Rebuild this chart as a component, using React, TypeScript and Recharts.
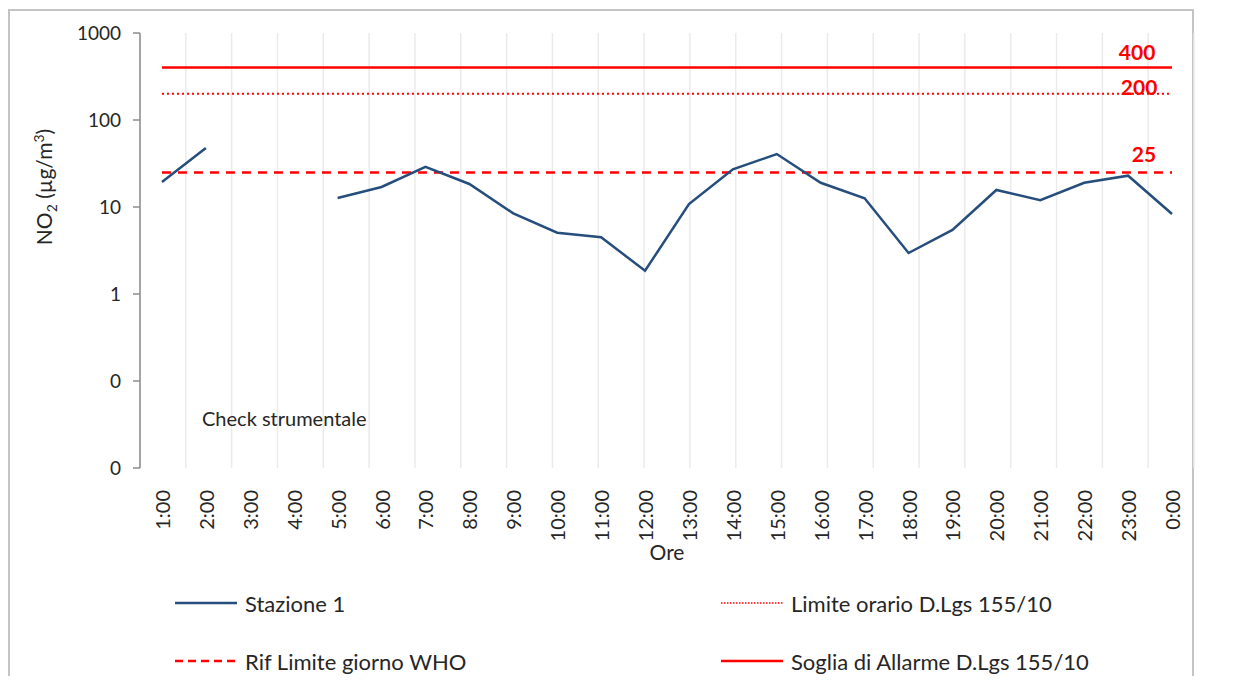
import {
  ComposedChart,
  Line,
  XAxis,
  YAxis,
  CartesianGrid,
  ReferenceLine,
} from "recharts";

const hours = [
  "1:00", "2:00", "3:00", "4:00", "5:00", "6:00", "7:00", "8:00",
  "9:00", "10:00", "11:00", "12:00", "13:00", "14:00", "15:00", "16:00",
  "17:00", "18:00", "19:00", "20:00", "21:00", "22:00", "23:00", "0:00",
];

// NO2 µg/m3, null = check strumentale
const stazione1 = [
  19.4, 47.6, null, null, 12.7, 17, 29, 18.4, 8.45, 5.07, 4.49, 1.85,
  10.8, 27.1, 40.6, 19, 12.6, 2.96, 5.45, 15.7, 12.0, 19, 22.9, 8.3,
];

const sogliaAllarme = 400;
const limiteOrario = 200;
const rifWho = 25;

const yTicks = [0.01, 0.1, 1, 10, 100, 1000];
const yMinorTicks = [0.01, 0.1, 1, 10, 100].flatMap((d) =>
  [2, 3, 4, 5, 6, 7, 8, 9].map((m) => +(d * m).toPrecision(3))
);
const boundaryTicks = hours.map((_, i) => i).concat(hours.length);

const data = hours.map((hour, i) => ({ hour, s1: stazione1[i] }));

const RED = "#ff0000";
const BLUE = "#264e7d";
const AXIS = "#8c8c8c";
const TEXT = "#262626";
const FONT = "Lato, 'Open Sans', sans-serif";

const Empty = () => <g />;

function XTick({ x, y, payload }: any) {
  return (
    <text
      x={x}
      y={y + 14}
      transform={`rotate(-90 ${x} ${y + 14})`}
      textAnchor="end"
      dominantBaseline="central"
      fontSize={20}
      fontFamily={FONT}
      fill={TEXT}
    >
      {payload.value}
    </text>
  );
}

function refLabel(dx: number, dy: number) {
  return (props: any) => {
    const vb = props.viewBox || {};
    const xEnd = vb.x2 ?? (vb.x ?? 0) + (vb.width ?? 0);
    const yLine = vb.y1 ?? vb.y ?? 0;
    return (
      <text
        x={xEnd + dx}
        y={yLine + dy}
        textAnchor="middle"
        fontSize={21}
        fontWeight="bold"
        fontFamily={FONT}
        fill={RED}
      >
        {props.value}
      </text>
    );
  };
}

function LegendItem({
  left,
  top,
  label,
  color,
  width,
  dash,
}: {
  left: number;
  top: number;
  label: string;
  color: string;
  width: number;
  dash?: string;
}) {
  return (
    <div
      style={{
        position: "absolute",
        left,
        top: top - 14,
        height: 28,
        display: "flex",
        alignItems: "center",
        fontFamily: FONT,
        fontSize: 22,
        color: TEXT,
        whiteSpace: "nowrap",
      }}
    >
      <svg width={62} height={10} style={{ marginRight: 8 }}>
        <line x1={0} x2={62} y1={5} y2={5} stroke={color} strokeWidth={width} strokeDasharray={dash} />
      </svg>
      {label}
    </div>
  );
}

export default function App() {
  return (
    <div style={{ position: "relative", width: 1222, height: 668 }}>
      <div
        style={{
          position: "absolute",
          left: 0,
          top: 1,
          width: 1186,
          height: 667,
          boxSizing: "border-box",
          border: "2px solid #c4c4c4",
          borderBottom: "none",
        }}
      />
      <ComposedChart
        width={1222}
        height={668}
        data={data}
        margin={{ top: 25, right: 36, bottom: 116, left: 52 }}
        style={{ position: "absolute", left: 0, top: 0 }}
      >
        <CartesianGrid xAxisId={0} yAxisId="main" horizontal={false} stroke="#ebebeb" strokeWidth={1.5} />
        <XAxis
          xAxisId={0}
          type="number"
          domain={[0, hours.length]}
          ticks={boundaryTicks}
          allowDataOverflow
          height={0}
          tick={Empty}
          tickSize={7}
          tickLine={{ stroke: AXIS, strokeWidth: 1.5 }}
          axisLine={{ stroke: AXIS, strokeWidth: 1.5 }}
        />
        <XAxis
          xAxisId={1}
          dataKey="hour"
          type="category"
          scale="band"
          interval={0}
          height={92}
          tick={<XTick />}
          tickLine={false}
          axisLine={false}
          label={{ value: "Ore", position: "insideBottom", offset: 0, fontSize: 21, fontFamily: FONT, fill: TEXT }}
        />
        <YAxis
          yAxisId="main"
          type="number"
          scale="log"
          domain={[0.01, 1000]}
          allowDataOverflow
          ticks={yTicks}
          interval={0}
          width={80}
          tickSize={7}
          tickMargin={12}
          tickFormatter={(v: number) => (v >= 1 ? String(v) : "0")}
          tick={{ fontSize: 19, fontFamily: FONT, fill: TEXT }}
          tickLine={{ stroke: AXIS, strokeWidth: 1.5 }}
          axisLine={{ stroke: AXIS, strokeWidth: 1.5 }}
        />
        <YAxis
          yAxisId="minor"
          type="number"
          scale="log"
          domain={[0.01, 1000]}
          allowDataOverflow
          ticks={yMinorTicks}
          interval={0}
          mirror
          width={0}
          tickSize={6}
          tick={Empty}
          tickLine={{ stroke: AXIS, strokeWidth: 1.2 }}
          axisLine={false}
        />
        <ReferenceLine
          xAxisId={1}
          yAxisId="main"
          segment={[{ x: hours[0], y: sogliaAllarme }, { x: hours[hours.length - 1], y: sogliaAllarme }]}
          stroke={RED}
          strokeWidth={2.5}
          label={{ value: String(sogliaAllarme), content: refLabel(-35, -8) }}
        />
        <ReferenceLine
          xAxisId={1}
          yAxisId="main"
          segment={[{ x: hours[0], y: limiteOrario }, { x: hours[hours.length - 1], y: limiteOrario }]}
          stroke={RED}
          strokeWidth={2}
          strokeDasharray="2 3"
          label={{ value: String(limiteOrario), content: refLabel(-33, 1) }}
        />
        <ReferenceLine
          xAxisId={1}
          yAxisId="main"
          segment={[{ x: hours[0], y: rifWho }, { x: hours[hours.length - 1], y: rifWho }]}
          stroke={RED}
          strokeWidth={2.5}
          strokeDasharray="9 7"
          label={{ value: String(rifWho), content: refLabel(-28, -10) }}
        />
        <Line
          xAxisId={1}
          yAxisId="main"
          dataKey="s1"
          type="linear"
          stroke={BLUE}
          strokeWidth={2.5}
          dot={false}
          activeDot={false}
          isAnimationActive={false}
        />
      </ComposedChart>

      <div
        style={{
          position: "absolute",
          left: 37,
          top: 179,
          transform: "translate(-50%, -50%) rotate(-90deg)",
          fontFamily: FONT,
          fontSize: 21,
          color: TEXT,
          whiteSpace: "nowrap",
        }}
      >
        NO<sub style={{ fontSize: 14 }}>2</sub> (µg/m<sup style={{ fontSize: 14 }}>3</sup>)
      </div>
      <div
        style={{
          position: "absolute",
          left: 194,
          top: 398,
          fontFamily: FONT,
          fontSize: 20,
          color: TEXT,
          whiteSpace: "nowrap",
        }}
      >
        Check strumentale
      </div>

      <LegendItem left={167} top={595} label="Stazione 1" color={BLUE} width={2.5} />
      <LegendItem left={713} top={595} label="Limite orario D.Lgs 155/10" color={RED} width={1.5} dash="1.5 1.5" />
      <LegendItem left={167} top={653} label="Rif Limite giorno WHO" color={RED} width={2.5} dash="8 5" />
      <LegendItem left={713} top={653} label="Soglia di Allarme D.Lgs 155/10" color={RED} width={2.5} />
    </div>
  );
}
